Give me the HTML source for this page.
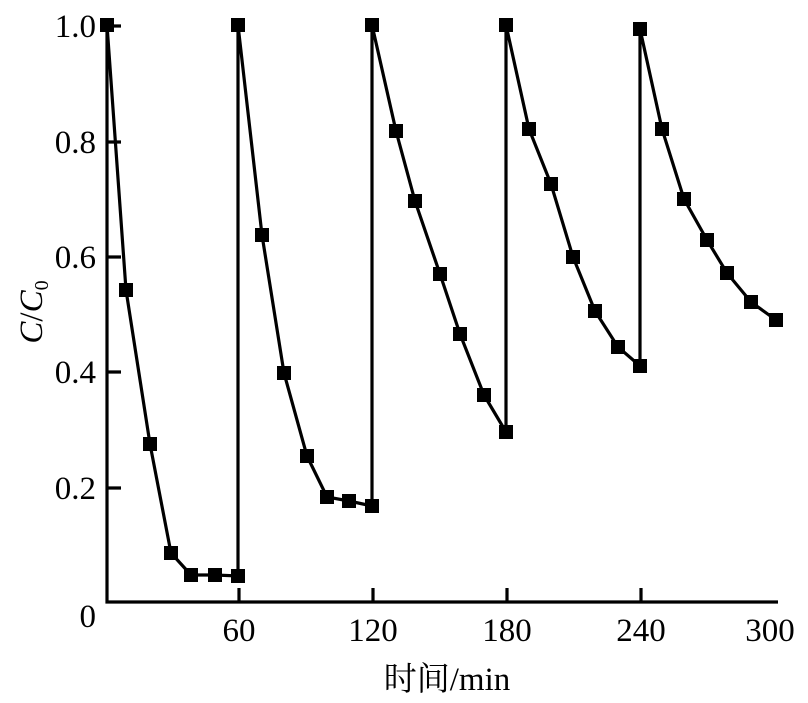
<!DOCTYPE html>
<html><head><meta charset="utf-8"><style>body{margin:0;background:#fff}</style></head><body>
<svg width="808" height="703" xmlns="http://www.w3.org/2000/svg" style="display:block">
<g stroke="#000" stroke-width="3.2" fill="none">
<path d="M107,20 V602 H778"/>
<path d="M107,142H121M107,257H121M107,372H121M107,488H121M107,26H121"/>
<path d="M239,602V588M373,602V588M507,602V588M641,602V588"/>
<polyline points="107,25 126,290 150,444 171,553 191,575 215,575 238,576 238,25 262,235 284,373 307,456 327,497 349,501 372,506 372,25 396,131 415,201 440,274 460,334 484,395 506,432 506,25 529,129 551,184 573,257 595,311 618,347 640,366 640,29 662,129 684,199 707,240 727,273 751,302 776,320"/>
</g>
<g fill="#000">
<rect x="100" y="18" width="14" height="14"/><rect x="119" y="283" width="14" height="14"/><rect x="143" y="437" width="14" height="14"/><rect x="164" y="546" width="14" height="14"/><rect x="184" y="568" width="14" height="14"/><rect x="208" y="568" width="14" height="14"/><rect x="231" y="569" width="14" height="14"/>
<rect x="231" y="18" width="14" height="14"/><rect x="255" y="228" width="14" height="14"/><rect x="277" y="366" width="14" height="14"/><rect x="300" y="449" width="14" height="14"/><rect x="320" y="490" width="14" height="14"/><rect x="342" y="494" width="14" height="14"/><rect x="365" y="499" width="14" height="14"/>
<rect x="365" y="18" width="14" height="14"/><rect x="389" y="124" width="14" height="14"/><rect x="408" y="194" width="14" height="14"/><rect x="433" y="267" width="14" height="14"/><rect x="453" y="327" width="14" height="14"/><rect x="477" y="388" width="14" height="14"/><rect x="499" y="425" width="14" height="14"/>
<rect x="499" y="18" width="14" height="14"/><rect x="522" y="122" width="14" height="14"/><rect x="544" y="177" width="14" height="14"/><rect x="566" y="250" width="14" height="14"/><rect x="588" y="304" width="14" height="14"/><rect x="611" y="340" width="14" height="14"/><rect x="633" y="359" width="14" height="14"/>
<rect x="633" y="22" width="14" height="14"/><rect x="655" y="122" width="14" height="14"/><rect x="677" y="192" width="14" height="14"/><rect x="700" y="233" width="14" height="14"/><rect x="720" y="266" width="14" height="14"/><rect x="744" y="295" width="14" height="14"/><rect x="769" y="313" width="14" height="14"/>
</g>
<g style="font-family:'Liberation Serif',serif;font-size:33px" fill="#000">
<g text-anchor="end">
<text x="96" y="37">1.0</text><text x="96" y="153">0.8</text><text x="96" y="268">0.6</text><text x="96" y="383">0.4</text><text x="96" y="499">0.2</text><text x="96" y="627">0</text>
</g>
<g text-anchor="middle">
<text x="239" y="641">60</text><text x="373" y="641">120</text><text x="507" y="641">180</text><text x="641" y="641">240</text><text x="770" y="641">300</text>
<text x="447" y="690" style="font-family:'Liberation Serif','Noto Serif CJK SC',serif">时间/min</text>
</g>
<text transform="translate(42,312) rotate(-90)" text-anchor="middle"><tspan font-style="italic">C</tspan>/<tspan font-style="italic">C</tspan><tspan font-size="20" dy="6">0</tspan></text>
</g>
</svg>
</body></html>
